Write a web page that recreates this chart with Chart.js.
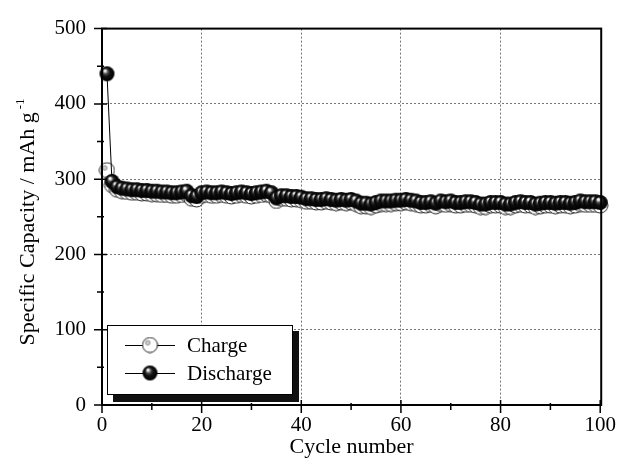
<!DOCTYPE html>
<html lang="en">
    <head>
        <meta charset="UTF-8">
        <title>Specific capacity vs cycle number</title>
        <script src="https://cdn.jsdelivr.net/npm/chart.js"></script>
        <style>
            body {
                margin: 0;
                background: #fff;
            }
            #box {
                width: 624px;
                height: 467px;
            }
        </style>
    </head>
    <body>
        <div id="box">
            <canvas id="capChart" width="624" height="467"></canvas>
        </div>
        <script>
            // cycle numbers 1..100
            const cycles = [
                1, 2, 3, 4, 5, 6, 7, 8, 9, 10,
                11, 12, 13, 14, 15, 16, 17, 18, 19, 20,
                21, 22, 23, 24, 25, 26, 27, 28, 29, 30,
                31, 32, 33, 34, 35, 36, 37, 38, 39, 40,
                41, 42, 43, 44, 45, 46, 47, 48, 49, 50,
                51, 52, 53, 54, 55, 56, 57, 58, 59, 60,
                61, 62, 63, 64, 65, 66, 67, 68, 69, 70,
                71, 72, 73, 74, 75, 76, 77, 78, 79, 80,
                81, 82, 83, 84, 85, 86, 87, 88, 89, 90,
                91, 92, 93, 94, 95, 96, 97, 98, 99, 100
            ];

            // capacities in mAh/g
            const charge = [
                312, 292, 286, 284, 283, 282, 282, 281, 281, 280,
                280, 279, 279, 278, 278, 279, 280, 274, 273, 278,
                279, 278, 278, 279, 278, 277, 278, 279, 278, 277,
                278, 279, 280, 278, 271, 274, 274, 273, 273, 272,
                270, 270, 269, 269, 270, 269, 268, 269, 268, 269,
                267, 264, 264, 263, 265, 267, 267, 267, 268, 268,
                269, 268, 267, 265, 265, 266, 264, 267, 266, 267,
                265, 265, 266, 266, 265, 263, 263, 265, 265, 265,
                263, 263, 265, 266, 265, 265, 263, 264, 265, 265,
                264, 265, 265, 264, 265, 267, 266, 266, 266, 265
            ];
            const discharge = [
                440, 297, 290, 288, 287, 286, 286, 285, 285, 284,
                284, 283, 283, 282, 282, 283, 284, 278, 277, 282,
                283, 282, 282, 283, 282, 281, 282, 283, 282, 281,
                282, 283, 284, 282, 275, 278, 278, 277, 277, 276,
                274, 274, 273, 273, 274, 273, 272, 273, 272, 273,
                271, 268, 268, 267, 269, 271, 271, 271, 272, 272,
                273, 272, 271, 269, 269, 270, 268, 271, 270, 271,
                269, 269, 270, 270, 269, 267, 267, 269, 269, 269,
                267, 267, 269, 270, 269, 269, 267, 268, 269, 269,
                268, 269, 269, 268, 269, 271, 270, 270, 270, 269
            ];

            const xTicks = [0, 20, 40, 60, 80, 100];
            const xMinor = [10, 30, 50, 70, 90];
            const yTicks = [0, 100, 200, 300, 400, 500];
            const yMinor = [50, 150, 250, 350, 450];

            const serif = "'Liberation Serif', 'Times New Roman', serif";

            // little sphere pictures for the markers
            function makeBall(r, dark) {
                const c = document.createElement('canvas');
                const s = Math.ceil(r * 2 + 2);
                c.width = s;
                c.height = s;
                const g = c.getContext('2d');
                const m = s / 2;
                g.beginPath();
                g.arc(m, m, r, 0, Math.PI * 2);
                if (dark) {
                    const grad = g.createRadialGradient(m - r * 0.3, m - r * 0.45, 0.2, m, m, r);
                    grad.addColorStop(0, '#ffffff');
                    grad.addColorStop(0.12, '#e8e8e8');
                    grad.addColorStop(0.3, '#555');
                    grad.addColorStop(0.55, '#111');
                    grad.addColorStop(1, '#000');
                    g.fillStyle = grad;
                    g.fill();
                } else {
                    g.fillStyle = '#fff';
                    g.fill();
                    g.lineWidth = 1;
                    g.strokeStyle = '#222';
                    g.stroke();
                    g.beginPath();
                    g.arc(m - r * 0.3, m - r * 0.3, r * 0.3, 0, Math.PI * 2);
                    g.fillStyle = '#d0d0d0';
                    g.fill();
                    g.strokeStyle = '#888';
                    g.stroke();
                }
                return c;
            }

            const ballDark = makeBall(7.5, true);
            const ballLight = makeBall(7.5, false);

            // ticks on both sides, frame, titles and the shadowed legend
            const decor = {
                id: 'decor',
                afterDatasetsDraw(chart) {
                    const ctx = chart.ctx;
                    const a = chart.chartArea;
                    const xs = chart.scales.x;
                    const ys = chart.scales.y;
                    ctx.save();
                    ctx.strokeStyle = '#000';

                    ctx.lineWidth = 2;
                    ctx.strokeRect(a.left, a.top, a.right - a.left, a.bottom - a.top);

                    ctx.lineWidth = 1.5;
                    ctx.beginPath();
                    xTicks.forEach(v => {
                        const px = xs.getPixelForValue(v);
                        ctx.moveTo(px, a.bottom - 5);
                        ctx.lineTo(px, a.bottom + 8);
                    });
                    xMinor.forEach(v => {
                        const px = xs.getPixelForValue(v);
                        ctx.moveTo(px, a.bottom - 2);
                        ctx.lineTo(px, a.bottom + 5);
                    });
                    yTicks.forEach(v => {
                        const py = ys.getPixelForValue(v);
                        ctx.moveTo(a.left - 8, py);
                        ctx.lineTo(a.left + 5, py);
                    });
                    yMinor.forEach(v => {
                        const py = ys.getPixelForValue(v);
                        ctx.moveTo(a.left - 5, py);
                        ctx.lineTo(a.left + 2, py);
                    });
                    ctx.stroke();

                    // axis titles
                    ctx.fillStyle = '#000';
                    ctx.font = '22px ' + serif;
                    ctx.textAlign = 'center';
                    ctx.textBaseline = 'alphabetic';
                    ctx.fillText('Cycle number', (a.left + a.right) / 2, 453);

                    ctx.save();
                    ctx.translate(34, 222);
                    ctx.rotate(-Math.PI / 2);
                    const main = 'Specific Capacity / mAh g';
                    ctx.font = '22px ' + serif;
                    const w1 = ctx.measureText(main).width;
                    ctx.font = '13px ' + serif;
                    const w2 = ctx.measureText('-1').width;
                    const start = -(w1 + 3 + w2) / 2;
                    ctx.textAlign = 'left';
                    ctx.font = '22px ' + serif;
                    ctx.fillText(main, start, 0);
                    ctx.font = '13px ' + serif;
                    ctx.fillText('-1', start + w1 + 3, -10);
                    ctx.restore();

                    // legend box with its black shadow
                    ctx.fillStyle = '#111';
                    ctx.fillRect(113, 331, 186, 71);
                    ctx.fillStyle = '#fff';
                    ctx.fillRect(107, 325, 186, 70);
                    ctx.lineWidth = 1;
                    ctx.strokeStyle = '#000';
                    ctx.strokeRect(107.5, 325.5, 185, 69);

                    const rows = [
                        { label: 'Charge', img: ballLight, y: 345 },
                        { label: 'Discharge', img: ballDark, y: 373 }
                    ];
                    rows.forEach(row => {
                        ctx.beginPath();
                        ctx.moveTo(125, row.y + 0.5);
                        ctx.lineTo(175, row.y + 0.5);
                        ctx.stroke();
                        ctx.drawImage(row.img, 150 - row.img.width / 2, row.y - row.img.height / 2);
                        ctx.font = '21px ' + serif;
                        ctx.textAlign = 'left';
                        ctx.fillStyle = '#000';
                        ctx.fillText(row.label, 187, row.y + 7);
                    });
                    ctx.restore();
                }
            };

            new Chart(document.getElementById('capChart'), {
                type: 'line',
                data: {
                    labels: cycles,
                    datasets: [{
                        label: 'Charge',
                        data: cycles.map((c, i) => ({ x: c, y: charge[i] })),
                        borderColor: '#000',
                        borderWidth: 1,
                        pointStyle: ballLight,
                        pointRadius: 7.5,
                        order: 2,
                        clip: 10
                    }, {
                        label: 'Discharge',
                        data: cycles.map((c, i) => ({ x: c, y: discharge[i] })),
                        borderColor: '#000',
                        borderWidth: 1,
                        pointStyle: ballDark,
                        pointRadius: 7.5,
                        order: 1,
                        clip: 10
                    }]
                },
                options: {
                    responsive: false,
                    animation: false,
                    layout: {
                        padding: { left: 0, top: 20, right: 17, bottom: 0 }
                    },
                    plugins: {
                        legend: { display: false },
                        tooltip: { enabled: false }
                    },
                    scales: {
                        x: {
                            type: 'linear',
                            min: 0,
                            max: 100.2,
                            afterBuildTicks: scale => {
                                scale.ticks = xTicks.map(v => ({ value: v }));
                            },
                            afterFit: scale => {
                                scale.height = 62;
                            },
                            border: { display: false, dash: [2, 2] },
                            grid: {
                                drawTicks: false,
                                color: ctx => (ctx.tick.value === 0 || ctx.tick.value === 100) ? 'rgba(0,0,0,0)' : '#777'
                            },
                            ticks: {
                                color: '#000',
                                padding: 8,
                                maxRotation: 0,
                                font: { family: serif, size: 21 }
                            }
                        },
                        y: {
                            min: 0,
                            max: 500,
                            afterBuildTicks: scale => {
                                scale.ticks = yTicks.map(v => ({ value: v }));
                            },
                            afterFit: scale => {
                                scale.width = 102;
                            },
                            border: { display: false, dash: [2, 2] },
                            grid: {
                                drawTicks: false,
                                color: ctx => (ctx.tick.value === 0 || ctx.tick.value === 500) ? 'rgba(0,0,0,0)' : '#777'
                            },
                            ticks: {
                                color: '#000',
                                padding: 16,
                                font: { family: serif, size: 21 }
                            }
                        }
                    }
                },
                plugins: [decor]
            });
        </script>
    </body>
</html>
